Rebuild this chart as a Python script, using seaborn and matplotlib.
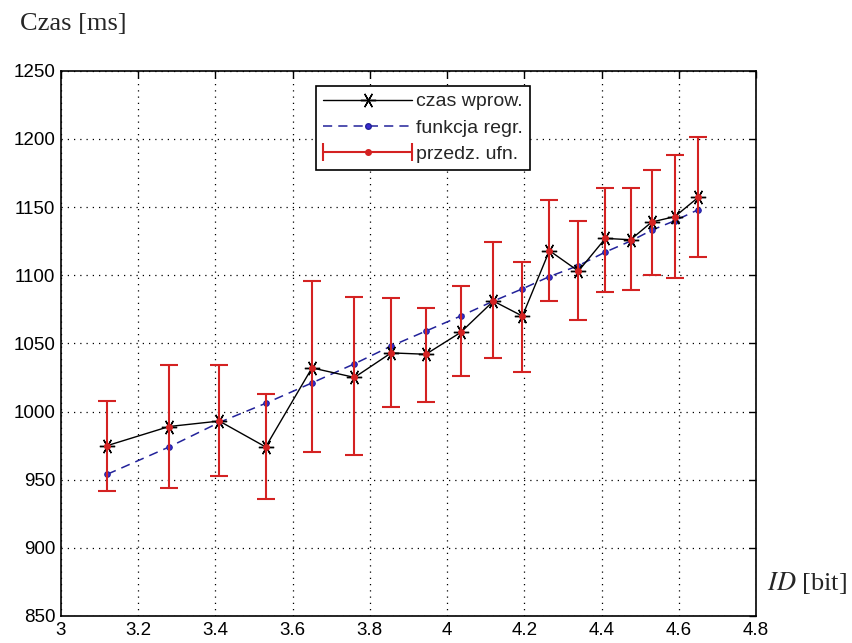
import numpy as np
import pandas as pd
import matplotlib
matplotlib.use("Agg")
import matplotlib.pyplot as plt
import seaborn as sns
from matplotlib.lines import Line2D
from matplotlib.legend_handler import HandlerLine2D, HandlerTuple

# ---- data ----
id_bit = [3.12, 3.28, 3.41, 3.53, 3.65, 3.76, 3.855, 3.945, 4.035, 4.12,
          4.195, 4.265, 4.34, 4.41, 4.475, 4.53, 4.59, 4.65]
czas_wprow = [975, 989, 993, 974, 1032, 1025, 1043, 1042, 1058, 1081,
              1070, 1118, 1103, 1127, 1126, 1139, 1143, 1157]
funkcja_regr = [954, 974, 992, 1006, 1021, 1035, 1048, 1059, 1070, 1081,
                1090, 1099, 1107, 1117, 1125, 1133, 1140, 1148]
ufn_upper = [1008, 1034, 1034, 1013, 1096, 1084, 1083, 1076, 1092, 1124,
             1110, 1155, 1140, 1164, 1164, 1177, 1188, 1201]
ufn_lower = [942, 944, 953, 936, 970, 968, 1003, 1007, 1026, 1039,
             1029, 1081, 1067, 1088, 1089, 1100, 1098, 1113]
x_ticks = [3, 3.2, 3.4, 3.6, 3.8, 4, 4.2, 4.4, 4.6, 4.8]
x_tick_labels = ["3", "3.2", "3.4", "3.6", "3.8", "4", "4.2", "4.4", "4.6", "4.8"]
y_ticks = [850, 900, 950, 1000, 1050, 1100, 1150, 1200, 1250]

df = pd.DataFrame({"ID": id_bit, "czas": czas_wprow, "regr": funkcja_regr,
                   "up": ufn_upper, "lo": ufn_lower})

sns.set_style("white")
plt.rcParams["font.family"] = ["Liberation Sans", "DejaVu Sans"]
plt.rcParams["mathtext.fontset"] = "stix"

RED = "#d42222"
BLUE = "#22229a"
ASTER = (6, 2, 90)

fig = plt.figure(figsize=(8.53, 6.43), dpi=100)
ax = fig.add_axes([61 / 853, 1 - 616 / 643, 695 / 853, 545.3 / 643])

sns.lineplot(data=df, x="ID", y="regr", ax=ax, sort=False, color=BLUE,
             linewidth=1.1, linestyle=(0, (6, 4)), marker=".", markersize=8,
             markeredgecolor=BLUE, markerfacecolor="#3a2ad0", zorder=3)
sns.lineplot(data=df, x="ID", y="czas", ax=ax, sort=False, color="black",
             linewidth=1.0, marker=ASTER, markersize=11, markeredgewidth=1.0,
             markeredgecolor="black", zorder=4)
yerr = np.vstack([df["czas"] - df["lo"], df["up"] - df["czas"]])
ax.errorbar(df["ID"], df["czas"], yerr=yerr, fmt=".", color=RED, ecolor=RED,
            markersize=8, elinewidth=1.5, capsize=6.5, capthick=1.5, zorder=5)

ax.set_xlim(3, 4.8)
ax.set_ylim(850, 1250)
ax.set_xticks(x_ticks)
ax.set_xticklabels(x_tick_labels)
ax.set_yticks(y_ticks)
ax.set_xlabel("")
ax.set_ylabel("")
ax.grid(True, color="black", linestyle=(0, (1, 4)), linewidth=0.9)
ax.tick_params(direction="in", length=5, width=1, top=True, right=True,
               labelsize=13.5, colors="black", pad=4)
for s in ax.spines.values():
    s.set_color("black")
    s.set_linewidth(1.2)

# legend
h_czas = Line2D([], [], color="black", linewidth=1.0, marker=ASTER,
                markersize=11, markeredgewidth=1.0)
h_regr = Line2D([], [], color=BLUE, linewidth=1.1, linestyle=(0, (6, 4)),
                marker=".", markersize=8, markerfacecolor="#3a2ad0",
                markeredgecolor=BLUE)
h_line = Line2D([], [], color=RED, linewidth=1.5)
h_caps = Line2D([], [], color=RED, linestyle="none", marker="|",
                markersize=13, markeredgewidth=1.5)
h_dot = Line2D([], [], color=RED, linestyle="none", marker=".", markersize=8)
leg = ax.legend([h_czas, h_regr, (h_line, h_caps, h_dot)],
                ["czas wprow.", "funkcja regr.", "przedz. ufn."],
                handler_map={h_caps: HandlerLine2D(numpoints=2, marker_pad=0.0),
                             tuple: HandlerTuple(ndivide=1, pad=0.0)},
                loc="upper left", bbox_to_anchor=(0.367, 0.972),
                fontsize=14, handlelength=4.6, handletextpad=0.2,
                labelspacing=0.45, borderpad=0.35, borderaxespad=0.0,
                fancybox=False, framealpha=1.0, edgecolor="black")
leg.get_frame().set_linewidth(1.2)

fig.text(20 / 853, 1 - 24 / 643, "Czas [ms]", family="Liberation Serif",
         fontsize=19, va="center", ha="left")
fig.text(767 / 853, 1 - 583 / 643, r"$\mathit{ID}$ [bit]",
         family="Liberation Serif", fontsize=19, va="center", ha="left")

fig.savefig("out.png", dpi=100)
